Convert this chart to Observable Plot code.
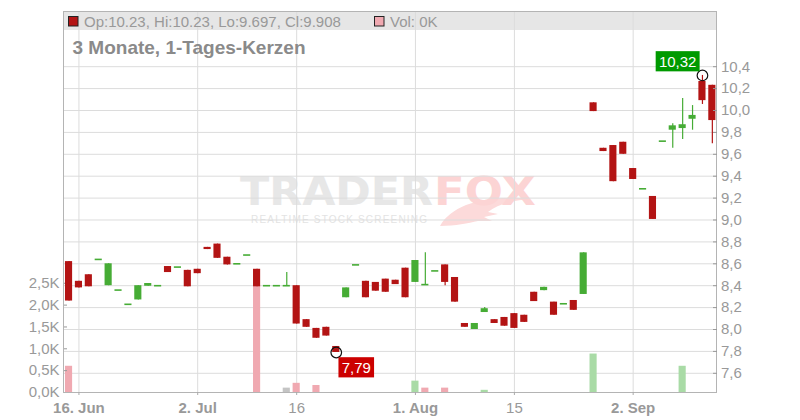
<!DOCTYPE html>
<html><head><meta charset="utf-8">
<script src="https://cdn.jsdelivr.net/npm/d3@7"></script>
<script src="https://cdn.jsdelivr.net/npm/@observablehq/plot@0.6"></script>
<style>
body{margin:0;background:#fff;}
#wrap{position:relative;width:800px;height:420px;overflow:hidden;font-family:"Liberation Sans",Arial,Helvetica,sans-serif;}
#wrap > svg{position:absolute;left:0;top:0;}
</style></head><body><div id="wrap"></div>
<script>
// ---- data ----
const dates = ["2025-06-13","2025-06-16","2025-06-17","2025-06-18","2025-06-19","2025-06-20","2025-06-23","2025-06-24","2025-06-25","2025-06-26","2025-06-27","2025-06-30",
"2025-07-01","2025-07-02","2025-07-03","2025-07-04","2025-07-07","2025-07-08","2025-07-09","2025-07-10","2025-07-11","2025-07-14","2025-07-15","2025-07-16","2025-07-17","2025-07-18","2025-07-21","2025-07-22","2025-07-23","2025-07-24","2025-07-25","2025-07-28","2025-07-29","2025-07-30","2025-07-31",
"2025-08-01","2025-08-04","2025-08-05","2025-08-06","2025-08-07","2025-08-08","2025-08-11","2025-08-12","2025-08-13","2025-08-14","2025-08-15","2025-08-18","2025-08-19","2025-08-20","2025-08-21","2025-08-22","2025-08-25","2025-08-26","2025-08-27","2025-08-28","2025-08-29",
"2025-09-01","2025-09-02","2025-09-03","2025-09-04","2025-09-05","2025-09-08","2025-09-09","2025-09-10","2025-09-11","2025-09-12"];
const open  = [8.62,8.44,8.50,8.64,8.40,8.36,8.23,8.27,8.395,8.40,8.575,8.57,8.54,8.55,8.75,8.78,8.66,8.60,8.68,8.55,8.40,8.40,8.40,8.40,8.09,8.01,8.02,7.845,8.29,8.59,8.44,8.43,8.46,8.45,8.56,8.43,8.41,8.535,8.59,8.475,8.055,8.00,8.155,8.09,8.11,8.145,8.13,8.34,8.355,8.25,8.235,8.265,8.32,10.07,9.655,9.68,9.71,9.47,9.285,9.215,9.72,9.82,9.835,9.92,10.265,10.23];
const high  = [8.62,8.44,8.50,8.64,8.60,8.36,8.23,8.40,8.42,8.40,8.575,8.57,8.54,8.55,8.75,8.78,8.66,8.60,8.68,8.55,8.40,8.40,8.52,8.40,8.09,8.01,8.02,7.845,8.38,8.59,8.44,8.43,8.46,8.45,8.56,8.63,8.70,8.535,8.59,8.475,8.055,8.055,8.20,8.09,8.11,8.145,8.13,8.34,8.385,8.25,8.235,8.265,8.70,10.07,9.655,9.68,9.71,9.47,9.285,9.215,9.72,9.88,10.11,10.045,10.32,10.23];
const low   = [8.26,8.38,8.39,8.64,8.40,8.36,8.23,8.27,8.395,8.40,8.52,8.57,8.39,8.51,8.73,8.65,8.59,8.60,8.68,8.39,8.40,8.40,8.40,8.05,8.02,7.92,7.94,7.79,8.29,8.59,8.29,8.35,8.34,8.41,8.29,8.43,8.41,8.535,8.40,8.25,8.02,8.00,8.155,8.055,8.03,8.01,8.065,8.255,8.355,8.13,8.235,8.175,8.32,9.99,9.625,9.35,9.60,9.37,9.285,9.005,9.72,9.655,9.735,9.82,10.055,9.697];
const close = [8.26,8.38,8.39,8.64,8.60,8.36,8.23,8.40,8.42,8.40,8.52,8.57,8.39,8.51,8.73,8.65,8.59,8.60,8.68,8.39,8.40,8.40,8.40,8.05,8.02,7.92,7.94,7.79,8.38,8.59,8.29,8.35,8.34,8.41,8.29,8.63,8.41,8.535,8.43,8.25,8.02,8.055,8.19,8.055,8.03,8.01,8.065,8.255,8.385,8.13,8.235,8.175,8.70,9.99,9.625,9.35,9.60,9.37,9.285,9.005,9.72,9.86,9.87,9.955,10.09,9.908];
// volume in thousands
const volume = [0.6,0,0,0,0,0,0,0,0,0,0,0,0,0,0,0,0,0,0,2.43,0,0,0.1,0.21,0,0.16,0,0,0,0,0,0,0,0,0,0.26,0.1,0,0.1,0,0,0,0.05,0,0,0,0,0,0,0,0,0,0,0.88,0,0,0,0,0,0,0,0,0.6,0,0,0];
const tickDates  = ["2025-06-16","2025-07-02","2025-07-16","2025-08-01","2025-08-15","2025-09-02"];
const tickLabels = ["16. Jun","2. Jul","16","1. Aug","15","2. Sep"];
const tickBold   = [true,true,false,true,false,true];
const priceTicks = [7.6,7.8,8.0,8.2,8.4,8.6,8.8,9.0,9.2,9.4,9.6,9.8,10.0,10.2,10.4];
const volTicks   = [0,0.5,1.0,1.5,2.0,2.5];
const titleText = "3 Monate, 1-Tages-Kerzen";

// ---- derived ----
const UP = "#46ac35", DOWN = "#b31414";
const VUP = "#a9dba6", VDOWN = "#f0a9b1", VFLAT = "#c4c4c4";
const rows = dates.map((d, i) => ({i, date: d, o: open[i], h: high[i], l: low[i], c: close[i], v: volume[i]}));
rows.forEach(d => d.col = d.c >= d.o ? UP : DOWN);
const bodies = rows.filter(d => d.o !== d.c);
const dojis = rows.filter(d => d.o === d.c);
const volRows = rows.filter(d => d.v > 0).map(d => ({...d,
  vc: d.i === 0 ? VDOWN : d.c > rows[d.i - 1].c ? VUP : d.c < rows[d.i - 1].c ? VDOWN : VFLAT}));
const tickIdx = tickDates.map(t => dates.indexOf(t));
const boldIdx = tickIdx.filter((t, k) => tickBold[k]);
const regIdx = tickIdx.filter((t, k) => !tickBold[k]);
const lbl = i => tickLabels[tickIdx.indexOf(i)];
const comma = (v, n) => v.toFixed(n).replace(".", ",");
const hiI = d3.maxIndex(high), loI = d3.minIndex(low);
const hiPt = {i: hiI, p: high[hiI]}, loPt = {i: loI, p: low[loI]};
const HW = 0.36;

const FONT = '"Liberation Sans", Arial, Helvetica, sans-serif';
const base = {width: 800, height: 420, marginLeft: 63, marginRight: 84, marginTop: 11, marginBottom: 28,
  style: {background: "transparent", fontFamily: FONT, fontSize: "15px", color: "#999", overflow: "visible"}};
const X = {type: "linear", domain: [-0.56, 65.42], label: null};
const Y = {type: "linear", domain: [7.4247, 10.904], label: null};

const wrap = document.getElementById("wrap");
const lastI = dates.length - 1;

// background layer: legend bar + watermark
const ns = "http://www.w3.org/2000/svg";
const bgLayer = document.createElementNS(ns, "svg");
bgLayer.setAttribute("width", 800); bgLayer.setAttribute("height", 420);
bgLayer.innerHTML = `
<rect x="63" y="11.5" width="653" height="18.5" fill="#e6e6e6"/>
<text x="240" y="205" font-family="DejaVu Sans" font-weight="bold" font-size="39" fill="#e7e7e7" textLength="193" lengthAdjust="spacingAndGlyphs">TRADER</text>
<path d="M440,226 C452,204 488,194 532,199 C512,200 497,205 488,212 L498,214 L484,217 L492,221 L478,221 C468,223 456,226 440,226 Z" fill="#fcdada"/>
<text x="434" y="205" font-family="DejaVu Sans" font-weight="bold" font-size="39" fill="#fcd4d4" textLength="102" lengthAdjust="spacingAndGlyphs">FOX</text>
<text x="251" y="223" font-family="Liberation Sans, Arial" font-size="10" fill="#e3e3e3" textLength="176" lengthAdjust="spacing">REALTIME STOCK SCREENING</text>`;
wrap.appendChild(bgLayer);

// layer 1: grid (price scale)
wrap.appendChild(Plot.plot({...base,
  x: {...X, axis: null}, y: {...Y, axis: null},
  marks: [
    Plot.gridY(priceTicks, {stroke: "#dcdcdc", strokeOpacity: 1}),
    Plot.gridX(tickIdx, {stroke: "#dcdcdc", strokeOpacity: 1})
  ]}));

// layer 2: volume (own scale, left axis)
wrap.appendChild(Plot.plot({...base,
  x: {...X, axis: null}, y: {type: "linear", domain: [0, 8.72], label: null},
  color: {type: "identity"},
  marks: [
    Plot.rect(volRows, {x1: d => d.i - HW, x2: d => d.i + HW, y1: d => 0, y2: "v", fill: "vc"}),
    Plot.axisY(volTicks, {anchor: "left", tickFormat: d => comma(d, 1) + "K", tickSize: -4, tickPadding: 8, stroke: "#999", label: null})
  ]}));

// layer 3: candles, axes, markers
const p3 = Plot.plot({...base, x: X, y: Y,
  color: {type: "identity"},
  marks: [
    Plot.ruleX(rows, {x: "i", y1: "l", y2: "h", stroke: "col", strokeWidth: 1.2}),
    Plot.rect(bodies, {x1: d => d.i - HW, x2: d => d.i + HW, y1: "o", y2: "c", fill: "col"}),
    Plot.ruleY(dojis, {x1: d => d.i - HW, x2: d => d.i + HW, y: "c", stroke: "col", strokeWidth: 1.6}),
    Plot.frame({stroke: "#b4b4b4"}),
    Plot.axisY(priceTicks, {anchor: "right", tickFormat: d => comma(d, 1), tickSize: -4, tickPadding: 8.5, stroke: "#999", label: null}),
    Plot.axisX(boldIdx, {anchor: "bottom", tickFormat: lbl, tickSize: 3, tickPadding: 7, stroke: "#aaa", fontWeight: "bold", label: null}),
    Plot.axisX(regIdx, {anchor: "bottom", tickFormat: lbl, tickSize: 3, tickPadding: 7, stroke: "#aaa", fontWeight: "normal", label: null}),
    Plot.dot([hiPt, loPt], {x: "i", y: "p", r: 5.3, stroke: "#111", strokeWidth: 1.2, fill: "none"}),
    Plot.text([hiPt], {x: "i", y: "p", text: d => comma(d.p, 2), dx: -24.8, dy: -13.5, fill: "white", fontSize: 15}),
    Plot.text([loPt], {x: "i", y: "p", text: d => comma(d.p, 2), dx: 20, dy: 15.5, fill: "white", fontSize: 15})
  ]});
wrap.appendChild(p3);

// label boxes behind marker texts
const boxCol = {[comma(hiPt.p, 2)]: "#009a00", [comma(loPt.p, 2)]: "#cc0000"};
p3.querySelectorAll("text").forEach(t => {
  const s = t.textContent;
  const isWhite = t.getAttribute("fill") === "white" || (t.parentNode && t.parentNode.getAttribute && t.parentNode.getAttribute("fill") === "white");
  if (isWhite && boxCol[s]) {
    const b = t.getBBox();
    const r = document.createElementNS(ns, "rect");
    r.setAttribute("x", b.x - 3.2); r.setAttribute("y", b.y - 1.6);
    r.setAttribute("width", b.width + 6.4); r.setAttribute("height", b.height + 3.2);
    r.setAttribute("fill", boxCol[s]);
    if (t.getAttribute("transform")) r.setAttribute("transform", t.getAttribute("transform"));
    t.parentNode.insertBefore(r, t);
  }
});

// top layer: legend + title
const fgLayer = document.createElementNS(ns, "svg");
fgLayer.setAttribute("width", 800); fgLayer.setAttribute("height", 420);
fgLayer.setAttribute("font-family", FONT);
fgLayer.innerHTML = `
<rect x="68.5" y="16.5" width="9.5" height="9.5" fill="${DOWN}" stroke="#222" stroke-width="1"/>
<text x="84" y="26.6" font-size="15" fill="#999">Op:${open[lastI]}, Hi:${high[lastI]}, Lo:${low[lastI]}, Cl:${close[lastI]}</text>
<rect x="374.5" y="16.5" width="9.5" height="9.5" fill="${VDOWN}" stroke="#222" stroke-width="1"/>
<text x="390" y="26.6" font-size="15" fill="#999">Vol: ${volume[lastI]}K</text>
<text x="72.5" y="54" font-size="19" font-weight="bold" fill="#8a8a8a">${titleText}</text>`;
wrap.appendChild(fgLayer);
</script>
</body></html>
